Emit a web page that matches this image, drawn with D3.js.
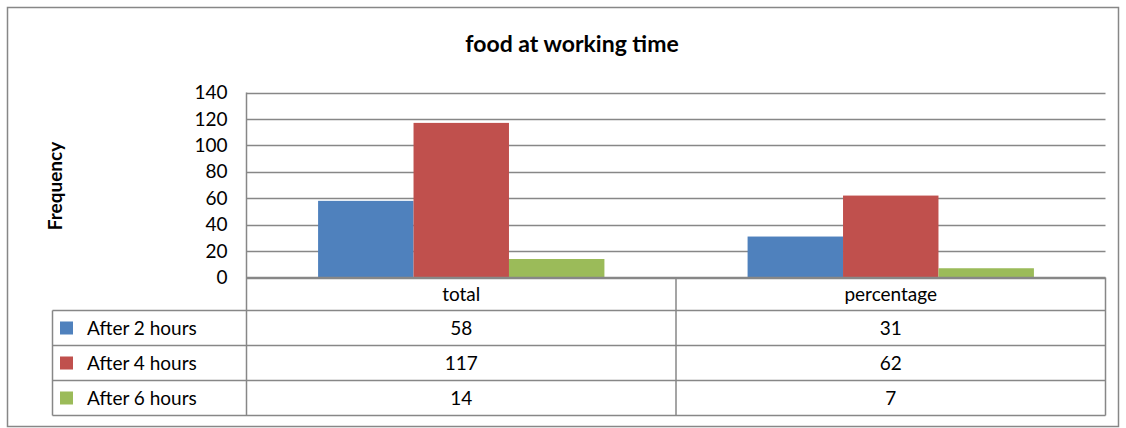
<!DOCTYPE html>
<html>
<head>
<meta charset="utf-8">
<script src="https://cdn.jsdelivr.net/npm/d3@7"></script>
<style>
  html, body { margin: 0; padding: 0; background: #fff; }
  svg { display: block; font-family: Lato, "Open Sans", sans-serif; }
</style>
</head>
<body>
<svg id="chart" width="1126" height="428"></svg>
<script>
// Chart data
const categories = ["total", "percentage"];
const seriesNames = ["After 2 hours", "After 4 hours", "After 6 hours"];
const after2 = [58, 31];
const after4 = [117, 62];
const after6 = [14, 7];
const yTicks = [0, 20, 40, 60, 80, 100, 120, 140];
const seriesColors = ["#4F81BD", "#C0504D", "#9BBB59"];

const seriesValues = [after2, after4, after6];

const svg = d3.select("#chart");
const lineColor = "#878787";
const fontSize = 19;

// outer frame
svg.append("rect")
  .attr("x", 7.5).attr("y", 7.5)
  .attr("width", 1111).attr("height", 419)
  .attr("fill", "#fff").attr("stroke", lineColor).attr("stroke-width", 1.5);

// title
svg.append("text")
  .attr("x", 572).attr("y", 52)
  .attr("text-anchor", "middle")
  .attr("font-size", 23).attr("font-weight", "bold")
  .attr("fill", "#000")
  .text("food at working time");

const plot = { left: 246.5, right: 1105.5, top: 92.5, bottom: 277.5 };

const x = d3.scaleBand()
  .domain(categories)
  .range([plot.left, plot.right]);

const inner = d3.scaleBand()
  .domain(seriesNames)
  .range([0, x.bandwidth()])
  .paddingOuter(0.75)
  .paddingInner(0);

const y = d3.scaleLinear()
  .domain([0, 140])
  .range([plot.bottom, plot.top]);

// gridlines
svg.append("g")
  .selectAll("line")
  .data(yTicks)
  .join("line")
  .attr("x1", plot.left).attr("x2", plot.right)
  .attr("y1", d => Math.round(y(d)) + 0.5)
  .attr("y2", d => Math.round(y(d)) + 0.5)
  .attr("stroke", lineColor).attr("stroke-width", 1.5);

// y axis labels
const yAxis = d3.axisLeft(y).tickValues(yTicks).tickSize(0).tickPadding(19);
const gy = svg.append("g")
  .attr("transform", `translate(${plot.left},0)`)
  .call(yAxis);
gy.select(".domain").remove();
gy.selectAll("text")
  .attr("font-size", fontSize)
  .attr("font-family", "Lato, 'Open Sans', sans-serif")
  .attr("fill", "#000");

// y axis title
svg.append("text")
  .attr("transform", "translate(62,186) rotate(-90)")
  .attr("text-anchor", "middle")
  .attr("font-size", 19).attr("font-weight", "bold")
  .text("Frequency");

// bars
const groups = svg.append("g")
  .selectAll("g")
  .data(seriesNames)
  .join("g")
  .attr("fill", (d, i) => seriesColors[i]);

groups.selectAll("rect")
  .data((name, si) => categories.map((c, ci) => ({ c, name, v: seriesValues[si][ci] })))
  .join("rect")
  .attr("x", d => x(d.c) + inner(d.name))
  .attr("width", inner.bandwidth())
  .attr("y", d => y(d.v))
  .attr("height", d => y(0) - y(d.v));

// data table
const rowEdges = [277.5, 310.5, 345.5, 380.5, 415.5];
const legendLeft = 52.5;
const tbl = svg.append("g")
  .attr("stroke", lineColor).attr("stroke-width", 1.5).attr("fill", "none");

// vertical lines
tbl.append("line").attr("x1", plot.left).attr("x2", plot.left).attr("y1", plot.top).attr("y2", rowEdges[4]);
categories.forEach(c => {
  const xr = x(c) + x.bandwidth();
  tbl.append("line").attr("x1", xr).attr("x2", xr).attr("y1", rowEdges[0]).attr("y2", rowEdges[4]);
});
tbl.append("line").attr("x1", legendLeft).attr("x2", legendLeft).attr("y1", rowEdges[1]).attr("y2", rowEdges[4]);
// horizontal lines
rowEdges.forEach((ry, i) => {
  tbl.append("line")
    .attr("x1", i === 0 ? plot.left : legendLeft)
    .attr("x2", plot.right)
    .attr("y1", ry).attr("y2", ry);
});

// header labels
svg.append("g").selectAll("text")
  .data(categories)
  .join("text")
  .attr("x", d => x(d) + x.bandwidth() / 2)
  .attr("y", (rowEdges[0] + rowEdges[1]) / 2)
  .attr("dy", "0.35em")
  .attr("text-anchor", "middle")
  .attr("font-size", fontSize)
  .text(d => d);

// legend rows with values
seriesNames.forEach((name, si) => {
  const cy = (rowEdges[si + 1] + rowEdges[si + 2]) / 2;
  svg.append("rect")
    .attr("x", 60).attr("y", cy - 6.5)
    .attr("width", 13).attr("height", 13)
    .attr("fill", seriesColors[si]);
  svg.append("text")
    .attr("x", 87).attr("y", cy).attr("dy", "0.35em")
    .attr("font-size", fontSize)
    .text(name);
  categories.forEach((c, ci) => {
    svg.append("text")
      .attr("x", x(c) + x.bandwidth() / 2)
      .attr("y", cy).attr("dy", "0.35em")
      .attr("text-anchor", "middle")
      .attr("font-size", fontSize)
      .text(seriesValues[si][ci]);
  });
});
</script>
</body>
</html>
